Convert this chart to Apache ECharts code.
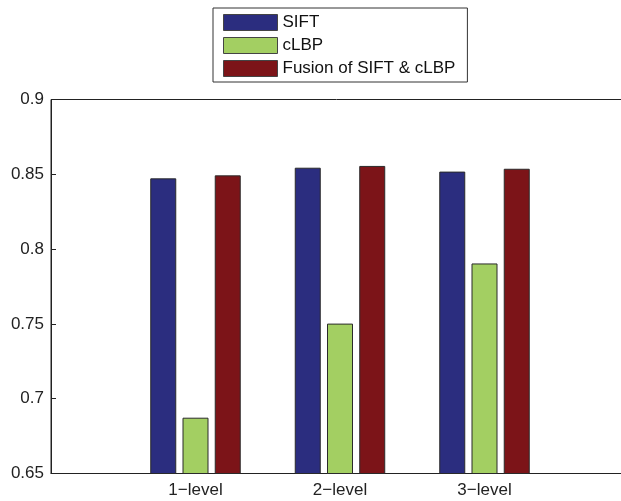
<!DOCTYPE html>
<html>
<head>
<meta charset="utf-8">
<script src="https://cdn.jsdelivr.net/npm/echarts@6/dist/echarts.min.js"></script>
<style>
  html, body { margin: 0; padding: 0; background: #fff; }
  #main { width: 621px; height: 501px; }
</style>
</head>
<body>
<div id="main"></div>
<script>
// 数据
var categories = ['', '1\u2212level', '2\u2212level', '3\u2212level', ''];
var siftValues = ['-', 0.8473, 0.8544, 0.8518, '-'];
var clbpValues = ['-', 0.6873, 0.7502, 0.7904, '-'];
var fusionValues = ['-', 0.8493, 0.8556, 0.8537, '-'];
var seriesNames = ['SIFT', 'cLBP', 'Fusion of SIFT & cLBP'];
var yTicks = [0.65, 0.7, 0.75, 0.8, 0.85, 0.9];

var myChart = echarts.init(document.getElementById('main'));

var barStyle = function (color) {
    return {
        color: color,
        borderColor: '#2a2a2a',
        borderWidth: 1
    };
};

var option = {
    animation: false,
    backgroundColor: '#ffffff',
    textStyle: { fontFamily: 'Liberation Sans, Arial, sans-serif' },
    legend: {
        data: seriesNames,
        orient: 'vertical',
        left: 213,
        top: 8,
        padding: [6, 12, 5, 10],
        itemWidth: 54,
        itemHeight: 16,
        itemGap: 6,
        icon: 'rect',
        borderColor: '#333',
        borderWidth: 1,
        backgroundColor: '#fff',
        textStyle: { fontSize: 17, color: '#111' },
        itemStyle: { borderColor: '#444', borderWidth: 1 }
    },
    grid: {
        show: true,
        left: 51,
        top: 99.5,
        width: 578,
        height: 374,
        outerBoundsMode: 'none',
        borderColor: '#222',
        borderWidth: 1,
        containLabel: false
    },
    xAxis: {
        type: 'category',
        data: categories,
        boundaryGap: false,
        axisLine: { lineStyle: { color: '#222', width: 1 } },
        axisTick: { show: false },
        axisLabel: { fontSize: 17, color: '#222', margin: 8, interval: 0 },
        splitLine: { show: false }
    },
    yAxis: {
        type: 'value',
        min: yTicks[0],
        max: yTicks[yTicks.length - 1],
        interval: 0.05,
        axisLine: { show: true, lineStyle: { color: '#222', width: 1 } },
        axisTick: { show: true, inside: true, length: 5, lineStyle: { color: '#222' } },
        axisLabel: {
            fontSize: 17,
            color: '#222',
            margin: 7,
            formatter: function (v) { return String(+v.toFixed(2)); }
        },
        splitLine: { show: false }
    },
    series: [
        {
            name: seriesNames[0],
            type: 'bar',
            data: siftValues,
            barWidth: 26,
            barGap: '24%',
            itemStyle: barStyle('#2b2d7f')
        },
        {
            name: seriesNames[1],
            type: 'bar',
            data: clbpValues,
            barWidth: 26,
            barGap: '24%',
            itemStyle: barStyle('#a3cf62')
        },
        {
            name: seriesNames[2],
            type: 'bar',
            data: fusionValues,
            barWidth: 26,
            barGap: '24%',
            itemStyle: barStyle('#7c1418')
        }
    ]
};

myChart.setOption(option);
</script>
</body>
</html>
